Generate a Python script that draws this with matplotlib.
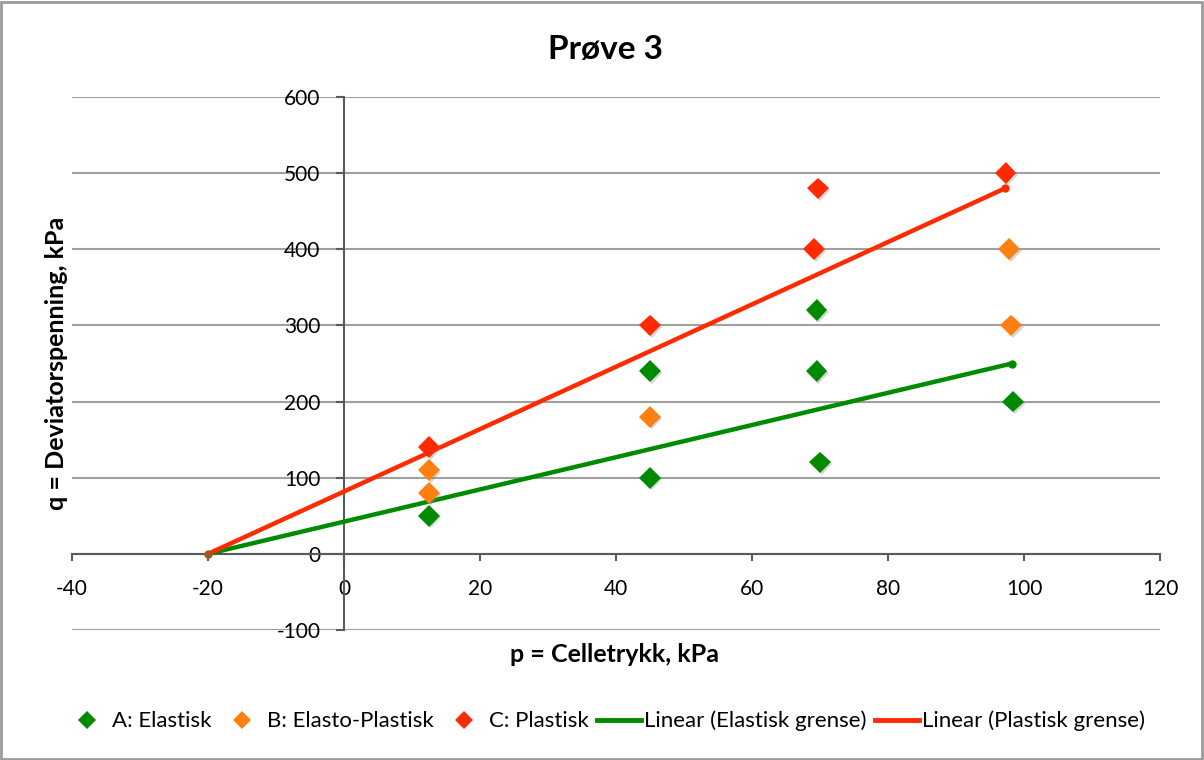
import matplotlib
matplotlib.use("Agg")
import matplotlib.pyplot as plt
from matplotlib.lines import Line2D
from matplotlib.patches import Rectangle
import matplotlib.patheffects as pe

plt.rcParams['font.family'] = ['Lato', 'DejaVu Sans']

# Cell pressure p (kPa) and deviator stress q (kPa) for each failure class
a_p = [12.5, 45, 45, 69.5, 69.5, 70, 98.4]
a_q = [50, 100, 240, 320, 240, 120, 200]
b_p = [12.5, 12.5, 45, 97.8, 98.1]
b_q = [110, 80, 180, 400, 300]
c_p = [12.5, 45, 69.1, 69.7, 97.3]
c_q = [140, 300, 400, 480, 500]

# Limit lines (end points)
elastic_p = [-20, 98.2]
elastic_q = [0, 250]
plastic_p = [-20, 97.2]
plastic_q = [0, 480]

x_ticks = [-40, -20, 0, 20, 40, 60, 80, 100, 120]
y_ticks = [-100, 0, 100, 200, 300, 400, 500, 600]

GREEN = '#008a00'
ORANGE = '#ff8010'
RED = '#ff2a00'

fig = plt.figure(figsize=(12.04, 7.6), dpi=100)
ax = fig.add_axes([72 / 1204, 1 - 630 / 760, (1160 - 72) / 1204, (630 - 97) / 760])

shadow = [pe.SimplePatchShadow(offset=(1.2, -1.2), shadow_rgbFace='#888888', alpha=0.35), pe.Normal()]

ax.plot(elastic_p, elastic_q, color=GREEN, lw=3.2, solid_capstyle='round', zorder=3,
        marker='o', markersize=5, markevery=[1])
ax.plot(plastic_p, plastic_q, color=RED, lw=3.2, solid_capstyle='round', zorder=3,
        marker='o', markersize=5, markevery=[1])
ax.plot([elastic_p[0]], [elastic_q[0]], 'o', color='#a05a1e', markersize=5, zorder=4)

for p, q, col in [(a_p, a_q, GREEN), (b_p, b_q, ORANGE), (c_p, c_q, RED)]:
    ax.plot(p, q, linestyle='none', marker='D', markersize=11, color=col,
            markeredgewidth=0, zorder=5, path_effects=shadow)

ax.set_xlim(-40, 120)
ax.set_ylim(-100, 600)
ax.set_xticks(x_ticks)
ax.set_yticks(y_ticks)
ax.set_xticklabels([str(v) for v in x_ticks])
ax.set_yticklabels([str(v) for v in y_ticks])

for s in ['top', 'right']:
    ax.spines[s].set_visible(False)
ax.spines['left'].set_position(('data', 0))
ax.spines['bottom'].set_position(('data', 0))
for s in ['left', 'bottom']:
    ax.spines[s].set_color('#5a5a5a')
    ax.spines[s].set_linewidth(1.5)
    ax.spines[s].set_zorder(2)

ax.yaxis.grid(True, color='#a0a0a0', lw=1.5, zorder=0)
ax.set_axisbelow(True)
ax.tick_params(axis='y', direction='out', length=6, width=1.5, color='#5a5a5a',
               labelsize=15, pad=11)
ax.tick_params(axis='x', direction='out', length=5, width=1.5, color='#5a5a5a',
               labelsize=15, pad=13)

fig.text(605 / 1204, 1 - 49 / 760, 'Prøve 3', ha='center', va='center',
         fontsize=24, fontweight='bold')
fig.text(615 / 1204, 1 - 655 / 760, 'p = Celletrykk, kPa', ha='center', va='center',
         fontsize=18, fontweight='bold')
fig.text(57 / 1204, 1 - 363 / 760, 'q = Deviatorspenning, kPa', ha='center', va='center',
         rotation=90, fontsize=18, fontweight='bold')

handles = [
    Line2D([], [], linestyle='none', marker='D', markersize=9, color=GREEN, markeredgewidth=0),
    Line2D([], [], linestyle='none', marker='D', markersize=9, color=ORANGE, markeredgewidth=0),
    Line2D([], [], linestyle='none', marker='D', markersize=9, color=RED, markeredgewidth=0),
    Line2D([], [], color=GREEN, lw=3.5),
    Line2D([], [], color=RED, lw=3.5),
]
labels = ['A: Elastisk', 'B: Elasto-Plastisk', 'C: Plastisk',
          'Linear (Elastisk grense)', 'Linear (Plastisk grense)']
fig.legend(handles, labels, loc='center', bbox_to_anchor=(605 / 1204, 1 - 721 / 760), ncol=5,
           frameon=False, fontsize=16, handlelength=1.95, handletextpad=0.14,
           columnspacing=0.4, borderpad=0, borderaxespad=0)

fig.patches.append(Rectangle((0.001, 0.001), 0.997, 0.997, transform=fig.transFigure,
                             fill=False, edgecolor='#9a9a9a', lw=2))

fig.savefig('out.png', dpi=100)
